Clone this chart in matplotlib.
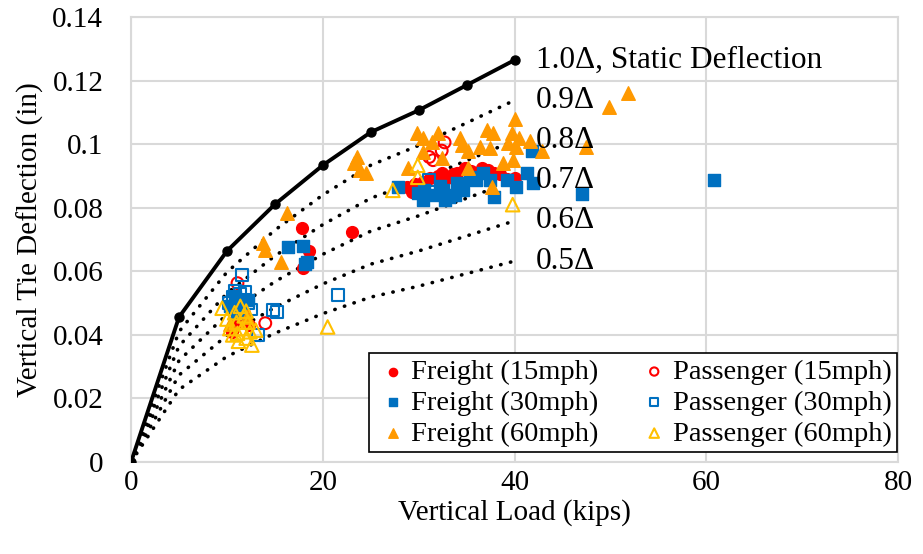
import numpy as np
import matplotlib.pyplot as plt
from matplotlib.ticker import FuncFormatter

plt.rcParams['font.family'] = ['Liberation Serif', 'DejaVu Serif']

# static deflection curve
load_static = [0, 5, 10, 15, 20, 25, 30, 35, 40]
defl_static = [0, 0.0456, 0.0664, 0.0811, 0.0934, 0.1038, 0.1107, 0.1186, 0.1265]
fractions = [0.9, 0.8, 0.7, 0.6, 0.5]
curve_labels = ['1.0\u0394, Static Deflection', '0.9\u0394', '0.8\u0394', '0.7\u0394', '0.6\u0394', '0.5\u0394']

# Freight (15mph)
f15_x = [10.5, 11.2, 11.8, 12.3, 17.8, 18.6, 17.9, 23.0, 28.8, 29.3, 29.6, 30.5, 31.2, 32.0,
         32.4, 33.0, 33.6, 34.0, 34.8, 35.5, 36.0, 36.6, 37.2, 37.9, 38.5, 39.2, 40.0]
f15_y = [0.041, 0.044, 0.047, 0.043, 0.0735, 0.0665, 0.061, 0.0725, 0.0865, 0.085, 0.0875, 0.088,
         0.0895, 0.090, 0.0909, 0.0893, 0.0905, 0.091, 0.0925, 0.0915, 0.089, 0.0925, 0.092,
         0.091, 0.0905, 0.089, 0.0895]
# Passenger (15mph)
p15_x = [11.1, 14.0, 31.1, 31.5, 32.4, 32.7]
p15_y = [0.0563, 0.0437, 0.096, 0.095, 0.098, 0.1006]
# Freight (30mph)
f30_x = [10.3, 10.8, 11.5, 12.2, 11.0, 16.4, 17.9, 18.4, 18.1,
         27.8, 29.9, 30.4, 30.6, 31.7, 32.2, 32.5, 32.7, 33.2, 33.8, 34.0, 34.6, 35.3, 36.0,
         36.7, 37.4, 37.9, 39.2, 40.2, 41.3, 41.9, 41.8, 47.0, 60.8]
f30_y = [0.049, 0.052, 0.050, 0.051, 0.047, 0.0676, 0.068, 0.063, 0.0623,
         0.0865, 0.0846, 0.0824, 0.0855, 0.084, 0.087, 0.0855, 0.0824, 0.0833, 0.084, 0.0877,
         0.0855, 0.0896, 0.0887, 0.0909, 0.0887, 0.0833, 0.0887, 0.0865, 0.0909, 0.0877,
         0.098, 0.0845, 0.0887]
# Passenger (30mph)
p30_x = [11.6, 10.2, 10.6, 11.0, 11.4, 11.8, 12.2, 12.5, 10.8, 11.9, 13.2, 14.8, 15.2, 21.6, 31.1]
p30_y = [0.0588, 0.050, 0.052, 0.049, 0.053, 0.051, 0.050, 0.048, 0.054, 0.0535, 0.040, 0.0478,
         0.0472, 0.0525, 0.0887]
# Freight (60mph)
f60_x = [10.3, 12.1, 13.8, 14.0, 15.6, 16.3, 23.3, 23.6, 23.9, 24.5,
         28.9, 29.8, 30.4, 30.4, 31.4, 32.0, 32.4, 34.3, 34.5, 35.1, 35.1, 36.4, 37.1, 37.4,
         37.6, 37.7, 38.8, 39.3, 39.7, 39.8, 40.0, 40.2, 40.5, 41.6, 42.9, 47.5, 49.9, 51.8]
f60_y = [0.0435, 0.0455, 0.0689, 0.0667, 0.063, 0.0783, 0.094, 0.096, 0.092, 0.091,
         0.0925, 0.1035, 0.102, 0.0975, 0.1007, 0.1035, 0.0956, 0.102, 0.0997, 0.0925, 0.098,
         0.099, 0.1044, 0.0987, 0.0865, 0.1035, 0.094, 0.1003, 0.1035, 0.095, 0.108, 0.099,
         0.102, 0.101, 0.098, 0.099, 0.1117, 0.116]
# Passenger (60mph)
p60_x = [9.5, 10.0, 10.3, 10.6, 10.8, 11.0, 11.2, 11.4, 11.6, 11.8, 12.0, 12.2, 12.4, 12.6,
         12.0, 11.1, 13.0, 20.5, 27.3, 29.9, 29.9, 39.8]
p60_y = [0.0484, 0.045, 0.042, 0.040, 0.047, 0.044, 0.038, 0.049, 0.042, 0.046, 0.039, 0.044,
         0.041, 0.0368, 0.0475, 0.0405, 0.0415, 0.0425, 0.0855, 0.0934, 0.0896, 0.081]

fig = plt.figure(figsize=(9.23, 5.54), dpi=100)
ax = fig.add_axes([0.142, 0.166, 0.831, 0.803])

# curves
ax.plot(load_static, defl_static, color='black', lw=2.8, marker='o', markersize=6.5, zorder=3)
for f in fractions:
    ax.plot(load_static, [d * f for d in defl_static], color='black', lw=2.6,
            linestyle=(0, (0.1, 2.7)), dash_capstyle='round', zorder=3)

last = defl_static[-1]
for f, lab in zip([1.0] + fractions, curve_labels):
    ax.text(42.2, last * f, lab, fontsize=22.5, va='center', ha='left', zorder=5)

ms = 72
h_f15 = ax.scatter(f15_x, f15_y, s=ms, marker='o', color='#FF0000', zorder=4, label='Freight (15mph)')
h_p15 = ax.scatter(p15_x, p15_y, s=ms, marker='o', facecolors='none', edgecolors='#FF0000',
                   linewidths=1.5, zorder=4, label='Passenger (15mph)')
h_f30 = ax.scatter(f30_x, f30_y, s=ms, marker='s', color='#0070C0', zorder=4, label='Freight (30mph)')
h_p30 = ax.scatter(p30_x, p30_y, s=ms, marker='s', facecolors='none', edgecolors='#0070C0',
                   linewidths=1.5, zorder=4, label='Passenger (30mph)')
h_f60 = ax.scatter(f60_x, f60_y, s=95, marker='^', color='#FF9900', zorder=4, label='Freight (60mph)')
h_p60 = ax.scatter(p60_x, p60_y, s=95, marker='^', facecolors='none', edgecolors='#FFC000',
                   linewidths=1.5, zorder=4, label='Passenger (60mph)')

ax.set_xlim(0, 80)
ax.set_ylim(0, 0.14)
ax.set_xticks([0, 20, 40, 60, 80])
ax.set_yticks(np.arange(0, 0.141, 0.02))
ax.yaxis.set_major_formatter(FuncFormatter(lambda v, p: '%g' % round(v, 2)))
ax.tick_params(length=0, labelsize=21)
ax.tick_params(axis='y', pad=20)
ax.tick_params(axis='x', pad=6)
ax.grid(True, color='#D9D9D9', lw=1.5, zorder=0)
ax.set_axisbelow(True)
for s in ax.spines.values():
    s.set_color('#D9D9D9')
    s.set_linewidth(1.5)

ax.set_xlabel('Vertical Load (kips)', fontsize=21, labelpad=2)
ax.set_ylabel('Vertical Tie Deflection (in)', fontsize=21, labelpad=6)

leg = ax.legend(handles=[h_f15, h_f30, h_f60, h_p15, h_p30, h_p60], ncol=2, fontsize=20.5,
                loc='lower right', bbox_to_anchor=(0.999, 0.022), borderaxespad=0,
                fancybox=False, framealpha=1, edgecolor='black', handletextpad=0.0,
                columnspacing=1.3, labelspacing=0.17, borderpad=0.2, markerscale=0.7,
                handlelength=1.3)
leg.get_frame().set_linewidth(1.2)
leg.set_zorder(6)

fig.savefig('out.png', dpi=100)
